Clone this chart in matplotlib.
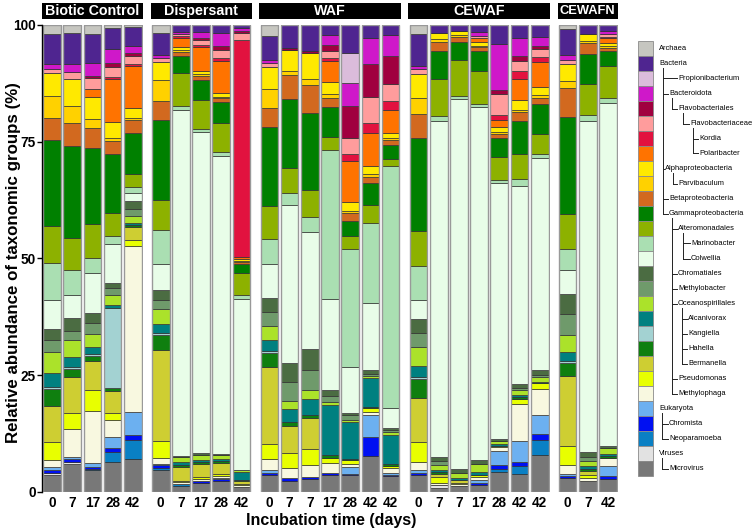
import matplotlib
matplotlib.use('Agg')
import numpy as np
import matplotlib.pyplot as plt
from matplotlib.patches import Rectangle
from matplotlib.lines import Line2D

plt.rcParams['font.family'] = ['Liberation Sans', 'DejaVu Sans']

# panels and sampling days
panels = ['Biotic Control', 'Dispersant', 'WAF', 'CEWAF', 'CEWAFN']
days = [
    ['0', '7', '17', '28', '42'],
    ['0', '7', '17', '28', '42'],
    ['0', '7', '7', '17', '28', '42', '42'],
    ['0', '7', '7', '17', '28', '42', '42'],
    ['0', '7', '42'],
]

# relative abundance (%) per bar, bars in panel order:
# BC(5) | Dispersant(5) | WAF(7) | CEWAF(7) | CEWAFN(3)
archaea = [2.0, 1.8, 2.0, 0.7, 0.5, 1.8, 0, 0, 0, 0, 2.4, 0, 0, 0, 0, 0, 0, 2.0, 0, 0, 0, 0, 0, 0, 0.9, 0, 0]
bacteria = [6.3, 6.5, 6.1, 4.4, 3.9, 4.7, 1.5, 1.6, 1.7, 0.7, 5.1, 4.9, 5.5, 2.2, 6.0, 2.8, 2.2, 6.7, 1.8, 1.3, 1.6, 4.0, 2.9, 2.5, 5.5, 2.0, 1.3]
propionibacterium = [0, 0, 0, 0, 0, 0, 0, 0, 0, 0, 0, 0, 0, 0, 6.5, 0, 0, 0, 0, 0, 0, 0, 0, 0, 0, 0, 0]
bacteroidota = [1.1, 1.8, 2.8, 3.1, 1.5, 0.5, 0.4, 1.2, 2.9, 0.5, 0.7, 0, 0, 2.2, 4.8, 5.5, 4.4, 0.7, 0, 0, 0.7, 10.0, 3.9, 2.0, 1.0, 0, 0.7]
flavobacteriales = [0, 0, 0.5, 0.7, 0.7, 0, 0, 0.5, 0.7, 0.6, 0, 0.5, 0.5, 1.1, 6.9, 7.1, 6.2, 0, 0, 0, 0, 0.9, 0.9, 0.7, 0, 0, 0]
flavobacteriaceae = [0.9, 1.5, 2.2, 2.2, 1.7, 0.8, 0.5, 1.1, 1.7, 1.5, 0.9, 0, 0, 1.6, 3.4, 5.7, 3.6, 1.1, 0, 0, 0.4, 4.4, 2.2, 1.6, 0.9, 0, 0.5]
kordia = [0, 0, 0, 0.5, 0.5, 0, 0.4, 0.4, 0.8, 47.0, 0, 0, 0, 0.6, 1.7, 2.2, 1.8, 0, 0, 0, 0, 1.0, 1.7, 1.1, 0, 0, 0.4]
polaribacter = [0, 0, 1.8, 9.2, 8.9, 0, 2.0, 5.1, 6.8, 0.4, 0, 0, 0, 4.6, 8.7, 7.1, 5.1, 0, 0, 0, 0.9, 1.5, 4.7, 5.5, 0, 0, 0.9]
alphaproteobacteria = [5.0, 5.6, 4.7, 3.3, 2.3, 4.0, 0.6, 0.6, 0.8, 0.4, 4.7, 4.5, 5.5, 2.5, 2.0, 1.7, 1.1, 5.1, 1.3, 0.9, 0.9, 1.2, 2.0, 1.7, 3.8, 1.5, 0.7]
parvibaculum = [4.7, 3.7, 2.0, 0.7, 0.4, 4.5, 0.4, 0.5, 0.3, 0.2, 4.0, 0.8, 1.3, 0.9, 0.4, 0.5, 0.4, 3.5, 0.5, 0.4, 0.2, 0.3, 0.5, 0.5, 1.5, 0.4, 0.4]
betaproteobacteria = [4.6, 5.0, 4.1, 2.9, 2.7, 4.0, 0.9, 0.9, 0.8, 0.5, 4.0, 5.2, 6.2, 1.8, 1.6, 1.3, 1.1, 5.2, 2.0, 1.1, 0.9, 0.9, 1.9, 1.5, 6.1, 2.3, 0.7]
gammaproteobacteria = [18.4, 19.7, 16.4, 12.5, 8.8, 17.1, 3.6, 4.2, 4.5, 2.0, 16.9, 14.7, 16.5, 6.5, 3.3, 4.7, 2.9, 19.9, 6.0, 3.9, 4.2, 4.1, 7.1, 6.3, 20.8, 6.4, 3.3]
alteromonadales = [7.9, 6.8, 7.2, 4.9, 2.7, 6.5, 7.1, 6.3, 6.4, 4.7, 7.2, 5.5, 5.7, 2.9, 2.8, 4.0, 1.6, 7.4, 7.9, 7.6, 7.1, 4.9, 5.5, 4.4, 7.6, 6.7, 6.9]
marinobacter = [7.9, 5.3, 3.3, 1.8, 1.3, 7.1, 0.9, 0.6, 0.7, 0.9, 5.3, 2.5, 3.3, 31.9, 25.4, 17.2, 51.9, 7.3, 1.1, 0.7, 0.7, 0.7, 1.5, 0.9, 4.3, 1.3, 0.9]
colwellia = [6.2, 4.9, 8.5, 8.4, 1.8, 5.6, 74.5, 69.0, 64.0, 37.0, 7.3, 33.9, 25.1, 19.6, 9.7, 14.4, 4.3, 4.0, 72.3, 79.6, 76.0, 54.8, 42.7, 45.6, 5.2, 71.2, 73.9]
chromatiales = [2.5, 2.7, 2.2, 0.9, 1.7, 2.2, 0.4, 0.5, 0.4, 0, 3.1, 4.2, 4.5, 1.3, 0.6, 0.7, 0.5, 3.1, 0.9, 0.9, 0.9, 0.5, 0.8, 0.9, 4.4, 1.1, 0.5]
methylobacter = [2.4, 2.0, 2.2, 1.5, 1.5, 1.8, 0, 0, 0, 0, 3.0, 4.1, 4.4, 1.2, 0.9, 0.5, 0.4, 3.1, 0.7, 0, 0, 0, 0.5, 0.6, 4.4, 0.8, 0]
oceanospirillales = [4.5, 3.6, 2.9, 2.2, 1.5, 3.3, 1.1, 0.9, 0.7, 0.5, 2.9, 1.7, 1.8, 0.7, 0.5, 0.4, 0.6, 4.0, 1.1, 1.1, 1.6, 0.6, 1.1, 0.9, 3.6, 1.2, 1.3]
alcanivorax = [3.1, 2.2, 1.5, 0.7, 0.4, 2.0, 0.5, 0.5, 0.5, 1.8, 2.3, 2.7, 3.5, 10.8, 7.9, 6.2, 6.3, 2.3, 0.5, 0.4, 0.6, 0.4, 0.4, 0.4, 2.1, 0.6, 0.4]
kangiella = [0.4, 0.4, 0.4, 17.1, 0, 0.3, 0, 0, 0, 0, 0.4, 0, 0, 0, 0, 0, 0, 0.4, 0, 0, 0, 0, 0, 0, 0.4, 0, 0]
hahella = [3.6, 1.7, 1.1, 0.7, 0.5, 3.3, 0.5, 0.4, 0.5, 0.2, 3.1, 0.9, 0.7, 0.5, 0.4, 0.4, 0.4, 4.2, 0.4, 0, 0, 0, 0.4, 0, 2.8, 0.4, 0.4]
bermanella = [7.8, 7.7, 6.2, 4.6, 2.8, 19.4, 2.9, 2.9, 2.2, 0.6, 16.4, 5.7, 6.7, 0, 0, 0, 0, 9.3, 0.7, 0.6, 0, 0, 0, 0, 14.9, 0.9, 0]
pseudomonas = [3.8, 3.4, 4.5, 1.6, 1.2, 3.6, 0.4, 0.4, 0.6, 0.2, 3.3, 3.3, 3.3, 1.1, 0.7, 0.7, 0.6, 4.4, 1.2, 0.3, 0.6, 0.4, 1.2, 1.1, 4.1, 0.7, 0]
methylophaga = [1.5, 6.0, 11.1, 3.5, 35.6, 1.2, 0.3, 0.5, 0.4, 0.4, 2.3, 2.2, 2.7, 2.2, 0.7, 0.7, 0.9, 1.7, 0.5, 0.4, 0.5, 0.7, 7.9, 5.8, 1.9, 0.7, 1.8]
eukaryota = [0.7, 0.5, 0.9, 2.5, 4.9, 0.4, 0, 0, 0.2, 0, 0.7, 0, 0, 0, 1.5, 4.7, 0.4, 0.6, 0, 0, 0.7, 3.1, 4.6, 4.0, 0.5, 0, 2.2]
chromista = [0.7, 0.5, 0.3, 0.8, 1.0, 0.5, 0, 0.4, 0.3, 0, 0.4, 0.5, 0.4, 0.4, 0.3, 4.2, 0.4, 0.5, 0, 0, 0.4, 0.8, 0.9, 1.3, 0.4, 0, 0.5]
neoparamoeba = [0, 0, 0.2, 2.1, 4.2, 0.4, 0.4, 0, 0, 0, 0, 0, 0, 0, 0, 0, 0, 0, 0, 0, 0, 0.7, 1.6, 3.1, 0, 0, 0]
viruses = [0.3, 0.4, 0, 0, 0, 0, 0, 0, 0, 0, 0, 0, 0, 0, 0, 0, 0, 0, 0.5, 0, 0, 0, 0, 0, 0, 0, 0]
microvirus = [3.6, 6.0, 4.7, 6.4, 6.9, 4.7, 1.3, 1.8, 2.4, 1.1, 3.6, 2.4, 2.7, 3.6, 3.5, 7.6, 3.3, 3.5, 0.9, 1.2, 1.5, 4.2, 3.9, 8.0, 2.9, 2.2, 2.8]

# legend order = top of the stack first
taxa = ['Archaea', 'Bacteria', 'Propionibacterium', 'Bacteroidota', 'Flavobacteriales',
        'Flavobacteriaceae', 'Kordia', 'Polaribacter', 'Alphaproteobacteria', 'Parvibaculum',
        'Betaproteobacteria', 'Gammaproteobacteria', 'Alteromonadales', 'Marinobacter',
        'Colwellia', 'Chromatiales', 'Methylobacter', 'Oceanospirillales', 'Alcanivorax',
        'Kangiella', 'Hahella', 'Bermanella', 'Pseudomonas', 'Methylophaga', 'Eukaryota',
        'Chromista', 'Neoparamoeba', 'Viruses', 'Microvirus']
series = [archaea, bacteria, propionibacterium, bacteroidota, flavobacteriales,
          flavobacteriaceae, kordia, polaribacter, alphaproteobacteria, parvibaculum,
          betaproteobacteria, gammaproteobacteria, alteromonadales, marinobacter,
          colwellia, chromatiales, methylobacter, oceanospirillales, alcanivorax,
          kangiella, hahella, bermanella, pseudomonas, methylophaga, eukaryota,
          chromista, neoparamoeba, viruses, microvirus]
colors = ['#c6c6c0', '#4f2590', '#dbbcdb', '#cf18c9', '#a0003f', '#ff9c9c', '#e2123f',
          '#ff7300', '#ffe900', '#ffd100', '#d2691f', '#008000', '#8db100', '#aadfb2',
          '#e8fde8', '#4b6c42', '#6f9a6b', '#abe22a', '#008080', '#a3d2d2', '#0f7f0f',
          '#cece32', '#e8ff00', '#f8f8e0', '#6cb0f0', '#0010f2', '#0a80c4', '#e2e2e2',
          '#787878']

W, H = 752, 532
fig = plt.figure(figsize=(W / 100, H / 100), dpi=100)


def fx(x):
    return x / W


def fy(y):
    return 1 - y / H


# layout in pixels
slot, gap = 20.2, 7.7
x0 = 41.9
y_top, y_bot = 25.0, 491.7
span = y_bot - y_top

vals = np.array(series, dtype=float)
vals = vals / vals.sum(axis=0) * 100

bar_i = 0
left = x0
for p, (name, dl) in enumerate(zip(panels, days)):
    n = len(dl)
    width = n * slot
    ax = fig.add_axes([fx(left), fy(y_bot), width / W, span / H])
    xs = np.arange(n)
    bottom = np.zeros(n)
    for k in range(len(taxa) - 1, -1, -1):
        h = vals[k, bar_i:bar_i + n]
        ax.bar(xs, h, bottom=bottom, width=0.88, color=colors[k],
               edgecolor='#333333', linewidth=0.5)
        bottom += h
    ax.bar(xs, 100, width=0.88, fill=False, edgecolor='#999999', linewidth=1.0)
    ax.set_xlim(-0.5, n - 0.5)
    ax.set_ylim(0, 100)
    ax.set_xticks(xs)
    ax.set_xticklabels(dl, fontsize=9.8, fontweight='bold')
    ax.tick_params(axis='x', length=0, pad=3.2)
    for s in ['top', 'right', 'bottom']:
        ax.spines[s].set_visible(False)
    if p == 0:
        ax.set_yticks([0, 25, 50, 75, 100])
        ax.set_yticklabels(['0', '25', '50', '75', '100'], fontsize=9.8, fontweight='bold')
        ax.tick_params(axis='y', length=3.5, width=1, pad=1)
        ax.spines['left'].set_linewidth(1)
    else:
        ax.spines['left'].set_visible(False)
        ax.set_yticks([])
    # facet strip
    ax.add_patch(Rectangle((0, 1 + 6.5 / span), 1, 15.5 / span, transform=ax.transAxes,
                           facecolor='black', edgecolor='none', clip_on=False))
    ax.text(0.5, 1 + 14.0 / span, name, transform=ax.transAxes, ha='center', va='center',
            color='white', fontsize=9.3 if n < 4 else 10.3, fontweight='bold')
    bar_i += n
    left += width + gap

fig.text(fx(14), fy(263), 'Relative abundance of taxonomic groups (%)', rotation=90,
         ha='center', va='center', fontsize=12.2, fontweight='bold')
fig.text(fx(331), fy(521), 'Incubation time (days)', ha='center', va='center',
         fontsize=11.5, fontweight='bold')

# legend with taxonomy tree
box_x, box_w, row_h, row_0 = 638, 15, 15, 41
text_x = [659, 659, 678, 669, 678, 690, 699, 699, 665, 678, 669, 669, 678, 691, 691,
          678, 678, 678, 688, 688, 688, 688, 678, 678, 659, 669, 669, 659, 669]
for i, (t, c) in enumerate(zip(taxa, colors)):
    y = row_0 + i * row_h
    fig.patches.append(Rectangle((fx(box_x), fy(y + row_h)), box_w / W, row_h / H,
                                 transform=fig.transFigure, facecolor=c,
                                 edgecolor='#8a8a8a', linewidth=0.6))
    fig.text(fx(text_x[i]), fy(y + row_h / 2), t, ha='left', va='center', fontsize=5.4)

tree = [(1, [2, 3, 8, 10, 11], 663), (3, [4], 672), (4, [5], 683), (5, [6, 7], 693),
        (8, [9], 673), (11, [12, 15, 16, 17, 22, 23], 671.5), (12, [13, 14], 683),
        (17, [18, 19, 20, 21], 682), (24, [25, 26], 662), (27, [28], 662)]


def row_y(r):
    return row_0 + r * row_h + row_h / 2


for parent, kids, vx in tree:
    fig.lines.append(Line2D([fx(vx), fx(vx)], [fy(row_y(parent) + 4.5), fy(row_y(kids[-1]))],
                            transform=fig.transFigure, color='#222222', linewidth=0.7))
    for k in kids:
        fig.lines.append(Line2D([fx(vx), fx(text_x[k] - 0.8)], [fy(row_y(k)), fy(row_y(k))],
                                transform=fig.transFigure, color='#222222', linewidth=0.7))

fig.savefig('out.png', dpi=100)
